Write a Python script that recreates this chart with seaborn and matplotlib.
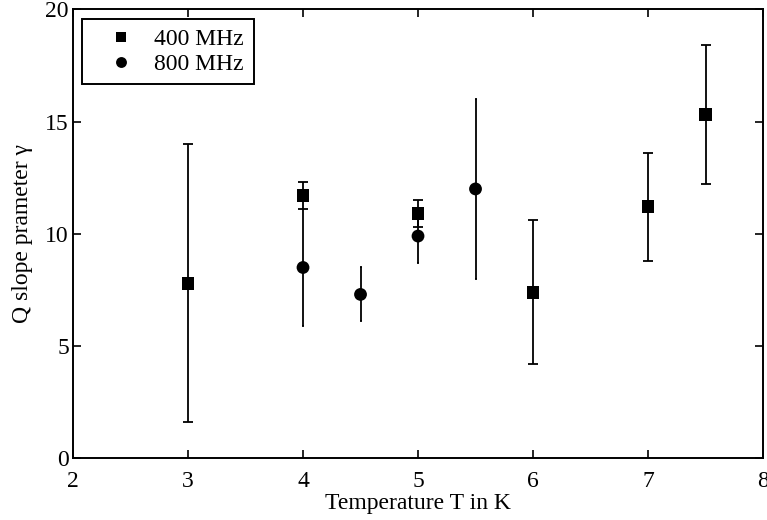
import pandas as pd
import matplotlib
matplotlib.use('Agg')
import matplotlib.pyplot as plt
import seaborn as sns

# data
temp_400 = [3, 4, 5, 6, 7, 7.5]
gamma_400 = [7.8, 11.7, 10.9, 7.4, 11.2, 15.3]
err_400 = [6.2, 0.6, 0.6, 3.2, 2.4, 3.1]

temp_800 = [4, 4.5, 5, 5.5]
gamma_800 = [8.5, 7.3, 9.9, 12.0]
err_800 = [2.6, 1.2, 1.2, 4.0]

x_ticks = [2, 3, 4, 5, 6, 7, 8]
y_ticks = [0, 5, 10, 15, 20]

df = pd.DataFrame({
    'T': temp_400 + temp_800,
    'gamma': gamma_400 + gamma_800,
    'err': err_400 + err_800,
    'freq': ['400 MHz'] * len(temp_400) + ['800 MHz'] * len(temp_800),
})

sns.set_style('ticks')
plt.rcParams['font.family'] = ['Liberation Serif', 'DejaVu Serif']
plt.rcParams['xtick.direction'] = 'in'
plt.rcParams['ytick.direction'] = 'in'
for key in ['text.color', 'axes.labelcolor', 'xtick.color', 'ytick.color', 'axes.edgecolor']:
    plt.rcParams[key] = 'black'

fig = plt.figure(figsize=(7.67, 5.2), dpi=100)
ax = fig.add_axes([0.0952, 0.1187, 0.8996, 0.8633])

# error bars first, markers on top
caps = {'400 MHz': 3.6, '800 MHz': 1.0}
for name, grp in df.groupby('freq'):
    ax.errorbar(grp['T'], grp['gamma'], yerr=grp['err'], fmt='none',
                ecolor='black', elinewidth=1.3, capsize=caps[name], capthick=1.3, zorder=2)

sns.scatterplot(data=df, x='T', y='gamma', style='freq', markers={'400 MHz': 's', '800 MHz': 'o'},
                color='black', s=85, edgecolor='black', linewidth=0, zorder=3, ax=ax)

ax.set_xlim(2, 8)
ax.set_ylim(0, 20)
ax.set_xticks(x_ticks)
ax.set_yticks(y_ticks)
ax.tick_params(axis='both', labelsize=17, length=6, width=1.2, top=True, right=True)
ax.tick_params(axis='x', pad=9)
ax.tick_params(axis='y', pad=3)
ax.set_xlabel('Temperature T in K', fontsize=17, labelpad=1)
ax.set_ylabel('Q slope prameter γ', fontsize=17, labelpad=9)
for sp in ax.spines.values():
    sp.set_linewidth(1.4)
    sp.set_visible(True)

leg = ax.legend(loc='upper left', fontsize=17, frameon=True, fancybox=False, edgecolor='black',
                framealpha=1, borderaxespad=0.4, handletextpad=0.15, labelspacing=0.15,
                borderpad=0.4, handlelength=2.5, markerscale=0.85)
leg.get_frame().set_linewidth(1.4)

fig.savefig('out.png', dpi=100)
